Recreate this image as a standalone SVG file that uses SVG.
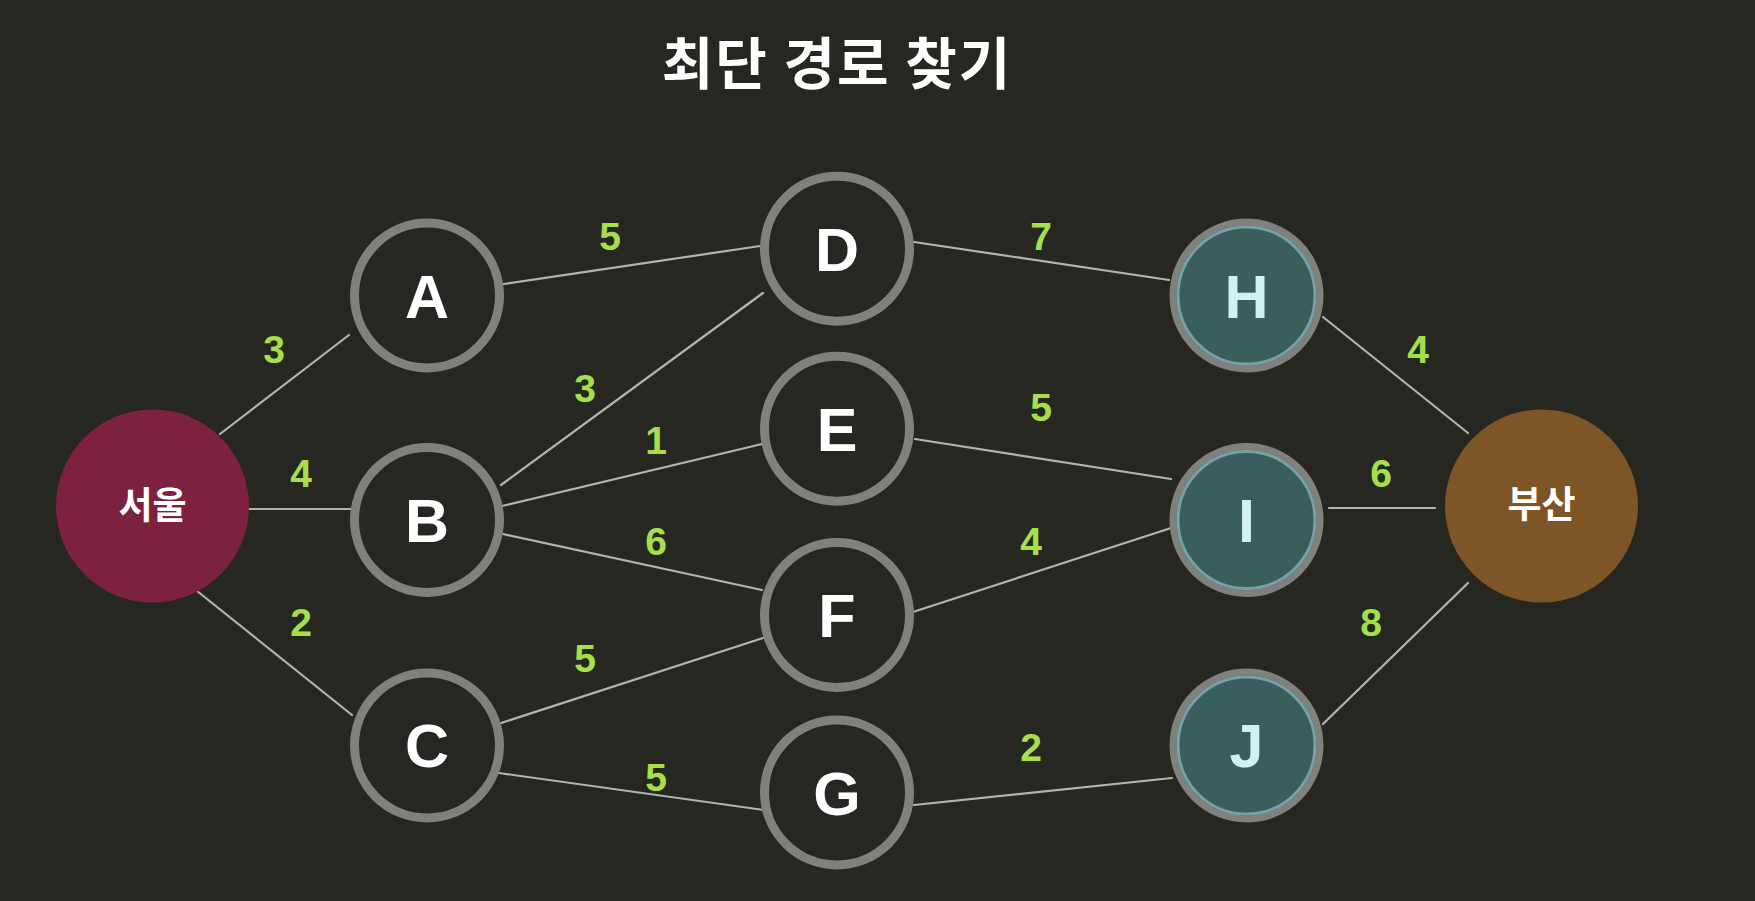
<svg xmlns="http://www.w3.org/2000/svg" width="1755" height="901" viewBox="0 0 1755 901">
<style>
.bg{fill:#272722}
.title{font-family:"Noto Sans CJK KR","Noto Sans",sans-serif;font-weight:700;font-size:56px;letter-spacing:2px;fill:#ffffff;text-anchor:middle}
.edge{stroke:#b4b4ae;stroke-width:2.2;stroke-linecap:round;fill:none}
.w{font-family:"Liberation Sans",Arial,sans-serif;font-weight:700;font-size:39px;fill:#a5e04a;text-anchor:middle}
.ring{fill:#262622;stroke:#80807c;stroke-width:9}
.tring{fill:#3a5d5e;stroke:#80807c;stroke-width:7}
.tin{fill:none;stroke:#76a2a6;stroke-width:3}
.lbl{font-family:"Liberation Sans",Arial,sans-serif;font-weight:700;font-size:61px;fill:#ffffff;text-anchor:middle}
.tlbl{font-family:"Liberation Sans",Arial,sans-serif;font-weight:700;font-size:61px;fill:#d4f0f7;text-anchor:middle}
.city{font-family:"Noto Sans CJK KR","Noto Sans",sans-serif;font-weight:700;font-size:37px;fill:#ffffff;text-anchor:middle}
</style>
<rect class="bg" x="0" y="0" width="1755" height="901"/>
<text class="title" x="837" y="84">최단 경로 찾기</text>
<g id="connectors">
<line class="edge" x1="220" y1="434" x2="349" y2="335"/>
<line class="edge" x1="249" y1="509" x2="355" y2="509"/>
<line class="edge" x1="197" y1="591" x2="352" y2="715"/>
<line class="edge" x1="504" y1="284" x2="760" y2="246"/>
<line class="edge" x1="501" y1="485" x2="763" y2="293"/>
<line class="edge" x1="502" y1="506" x2="762" y2="444"/>
<line class="edge" x1="503" y1="534" x2="762" y2="590"/>
<line class="edge" x1="501" y1="723" x2="763" y2="638"/>
<line class="edge" x1="499" y1="773" x2="764" y2="810"/>
<line class="edge" x1="914" y1="242" x2="1169" y2="280"/>
<line class="edge" x1="915" y1="439" x2="1171" y2="479"/>
<line class="edge" x1="913" y1="612" x2="1171" y2="528"/>
<line class="edge" x1="914" y1="805" x2="1172" y2="778"/>
<line class="edge" x1="1323" y1="317" x2="1468" y2="433"/>
<line class="edge" x1="1329" y1="508" x2="1435" y2="508"/>
<line class="edge" x1="1323" y1="724" x2="1468" y2="583"/>
<text class="w" x="274" y="363">3</text>
<text class="w" x="301" y="487">4</text>
<text class="w" x="301" y="636">2</text>
<text class="w" x="610" y="250">5</text>
<text class="w" x="585" y="402">3</text>
<text class="w" x="656" y="454">1</text>
<text class="w" x="656" y="555">6</text>
<text class="w" x="585" y="672">5</text>
<text class="w" x="656" y="791">5</text>
<text class="w" x="1041" y="250">7</text>
<text class="w" x="1041" y="421">5</text>
<text class="w" x="1031" y="555">4</text>
<text class="w" x="1031" y="761">2</text>
<text class="w" x="1418" y="363">4</text>
<text class="w" x="1381" y="487">6</text>
<text class="w" x="1371" y="636">8</text>
</g>
<g id="seoul"><circle cx="152.5" cy="506" r="96.5" fill="#7c2240"/><text class="city" x="152.5" y="519">서울</text></g>
<g id="A"><circle class="ring" cx="427" cy="295.5" r="72.5"/><text class="lbl" x="427" y="318">A</text></g>
<g id="B"><circle class="ring" cx="427" cy="520" r="72.5"/><text class="lbl" x="427" y="542">B</text></g>
<g id="C"><circle class="ring" cx="427" cy="745.5" r="72.5"/><text class="lbl" x="427" y="767">C</text></g>
<g id="D"><circle class="ring" cx="837" cy="248.7" r="72.5"/><text class="lbl" x="837" y="271">D</text></g>
<g id="E"><circle class="ring" cx="837" cy="428.7" r="72.5"/><text class="lbl" x="837" y="451">E</text></g>
<g id="F"><circle class="ring" cx="837" cy="615" r="72.5"/><text class="lbl" x="837" y="637">F</text></g>
<g id="G"><circle class="ring" cx="837" cy="792.5" r="72.5"/><text class="lbl" x="837" y="815">G</text></g>
<g id="H"><circle class="tring" cx="1246.5" cy="295.5" r="73.5"/><circle class="tin" cx="1246.5" cy="295.5" r="68.5"/><text class="tlbl" x="1246.5" y="318">H</text></g>
<g id="I"><circle class="tring" cx="1246.5" cy="520" r="73.5"/><circle class="tin" cx="1246.5" cy="520" r="68.5"/><text class="tlbl" x="1246.5" y="542">I</text></g>
<g id="J"><circle class="tring" cx="1246.5" cy="745.5" r="73.5"/><circle class="tin" cx="1246.5" cy="745.5" r="68.5"/><text class="tlbl" x="1246.5" y="767">J</text></g>
<g id="busan"><circle cx="1541.5" cy="506" r="96.5" fill="#7e5526"/><text class="city" x="1541.5" y="518">부산</text></g>
</svg>
